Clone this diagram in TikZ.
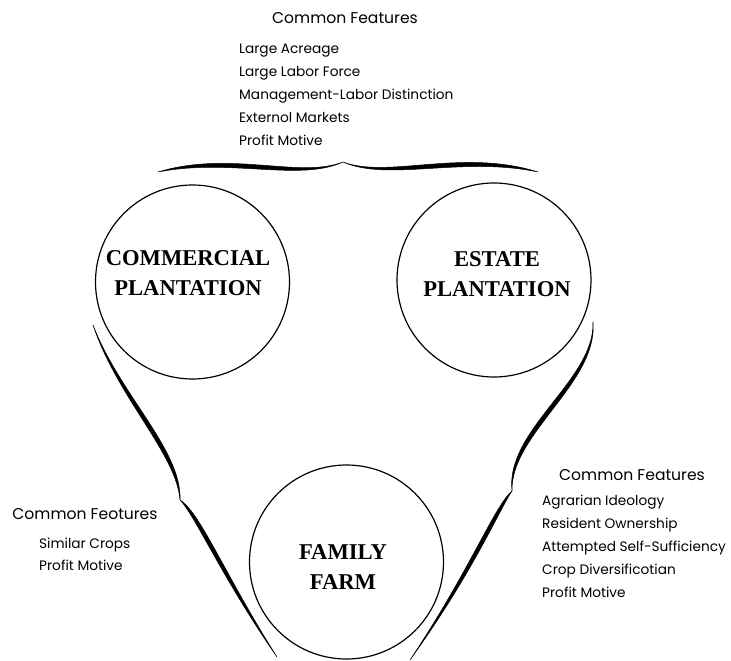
\documentclass[tikz,border=0pt]{standalone}
\usepackage{fontspec}
\setmainfont{Liberation Serif}
\newfontfamily\geofont{Poppins}

\begin{document}
\begin{tikzpicture}[x=1pt,y=-1pt,
    farm/.style={draw, circle, line width=1.2pt, minimum size=194pt, inner sep=0pt},
    farmname/.style={font=\fontsize{22.6}{30}\selectfont\bfseries, align=center, inner sep=0pt},
    feathead/.style={font=\geofont\fontsize{15.6}{18}\selectfont, anchor=base, inner sep=0pt},
    featitem/.style={font=\geofont\fontsize{13.7}{16}\selectfont, anchor=base west, inner sep=0pt},
    swell/.style={fill=black, draw=black, line width=0.5pt}]
    \useasboundingbox (0,0) rectangle (731,661);

    % The three farm types
    \node[farm] (comm) at (192.5,282) {};
    \node[farm] (estate) at (494,280) {};
    \node[farm] (family) at (346.5,562) {};

    \node[farmname] (commtxt) at (188,273.5) {COMMERCIAL\\PLANTATION};
    \node[farmname] (estatetxt) at (497,274) {ESTATE\\PLANTATION};
    \node[farmname] (familytxt) at (343,567.5) {FAMILY\\FARM};

    % Brace ends and tips
    \coordinate (tl) at (158,172);
    \coordinate (tt) at (343,162);
    \coordinate (tr) at (538,172);
    \coordinate (lu) at (93,325);
    \coordinate (lt) at (180,500);
    \coordinate (ld) at (277,657);
    \coordinate (ru) at (593,322);
    \coordinate (rt) at (512,491);
    \coordinate (rd) at (410,660);

    % top brace
    \filldraw[swell] (tl) .. controls (230,158) and (300,182) .. (tt)
        .. controls (300,179) and (230,150) .. (tl);
    \filldraw[swell] (tr) .. controls (462,156) and (388,182) .. (tt)
        .. controls (388,179) and (462,148) .. (tr);
    % left brace
    \filldraw[swell] (lu) .. controls (120,395) and (182,450) .. (lt)
        .. controls (176.5,454) and (117,397) .. (lu);
    \filldraw[swell] (lt) .. controls (200,512) and (225,575) .. (ld)
        .. controls (221.5,577) and (194.8,515) .. (lt);
    % right brace
    \filldraw[swell] (ru) .. controls (595,380) and (505,430) .. (rt)
        .. controls (510.5,434) and (598.2,382.4) .. (ru);
    \filldraw[swell] (rt) .. controls (495,505) and (470,570) .. (rd)
        .. controls (473.6,571.8) and (500.4,507.7) .. (rt);

    % Common features
    \node[feathead] (tophead) at (345,23.3) {Common Features};
    \foreach \txt [count=\i] in {Large Acreage, Large Labor Force,
        Management-Labor Distinction, Externol Markets, Profit Motive}
        \node[featitem] (top\i) at (239,{54+22.75*(\i-1)}) {\txt};

    \node[feathead] (lefthead) at (85,519) {Common Feotures};
    \foreach \txt [count=\i] in {Similar Crops, Profit Motive}
        \node[featitem] (left\i) at (39,{548+22.5*(\i-1)}) {\txt};

    \node[feathead] (righthead) at (632,480) {Common Features};
    \foreach \txt [count=\i] in {Agrarian Ideology, Resident Ownership,
        Attempted Self-Sufficiency, Crop Diversificotian, Profit Motive}
        \node[featitem] (right\i) at (542,{505+23*(\i-1)}) {\txt};

\end{tikzpicture}
\end{document}
